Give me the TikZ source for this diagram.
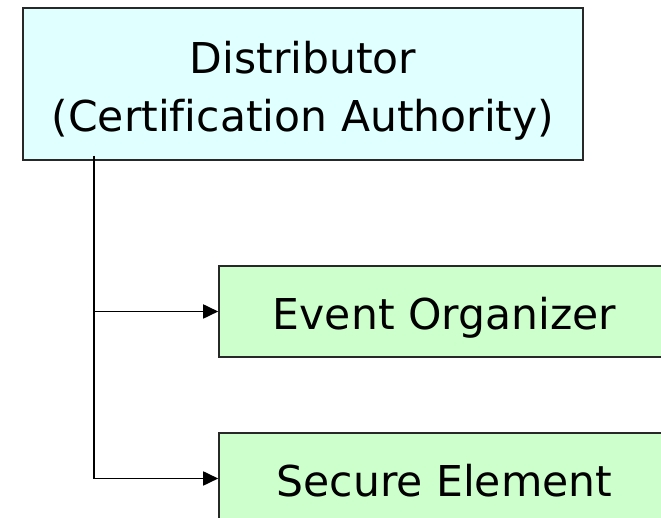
\documentclass[tikz,border=0pt]{standalone}
\usepackage{fontspec}
\setmainfont{DejaVu Sans}[Ligatures=NoCommon]
\usetikzlibrary{arrows.meta}
\definecolor{caFill}{RGB}{224,255,255}
\definecolor{roleFill}{RGB}{204,255,204}
\definecolor{edgeGray}{RGB}{40,40,40}
\tikzset{
  boxframe/.style={draw=edgeGray, line width=1.6bp, inner sep=0pt},
  rolebox/.style={boxframe, fill=roleFill, minimum width=451bp, minimum height=91bp,
                  text height=37bp, text depth=0pt, font=\fontsize{42.5bp}{50bp}\selectfont},
  caption/.style={anchor=base, inner sep=0pt, font=\fontsize{42.5bp}{50bp}\selectfont},
  link/.style={draw=black, line width=1.8bp},
  linkarrow/.style={link, -{Triangle[length=15bp,width=14bp]}}
}
\begin{document}
\begin{tikzpicture}[x=1bp,y=1bp]
  \useasboundingbox (0,0) rectangle (661,518);
  \clip (0,0) rectangle (661,518);
  % certification authority box with its two text lines
  \node[boxframe, fill=caFill, minimum width=560bp, minimum height=152bp] (dist) at (303,434) {};
  \node[caption] (distA) at (303,444) {Distributor};
  \node[caption] (distB) at (303,386.3) {(Certification Authority)};
  % the two certified parties
  \node[rolebox] (eo) at (444.5,206.5) {Event Organizer};
  \node[rolebox] (se) at (444.5,39.5) {Secure Element};
  % tree connector from the distributor
  \coordinate (trunk) at ([xshift=72bp,yshift=5bp]dist.south west);
  \draw[linkarrow] (trunk) |- (eo.west);
  \draw[linkarrow] (trunk) |- (se.west);
\end{tikzpicture}
\end{document}
